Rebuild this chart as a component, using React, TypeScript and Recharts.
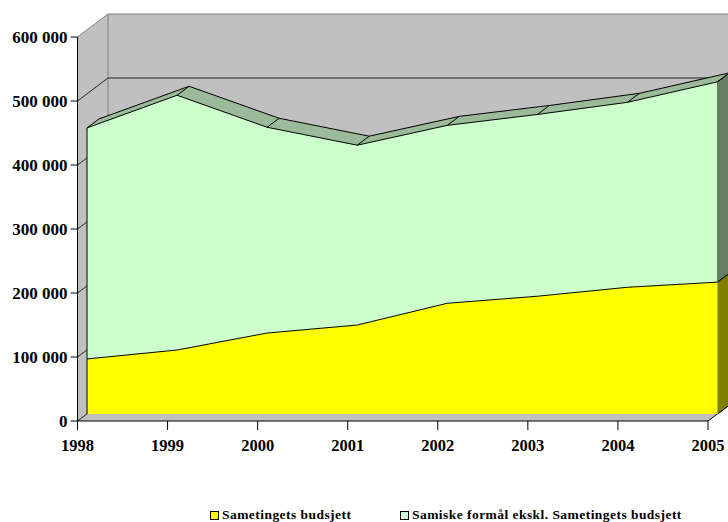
import {
  Area,
  ComposedChart,
  Legend,
  ReferenceArea,
  XAxis,
  YAxis,
} from "recharts";

const years = ["1998", "1999", "2000", "2001", "2002", "2003", "2004", "2005"];
const budget = [86000, 100000, 126500, 139000, 173000, 184000, 198000, 206000];
const other = [361000, 398000, 321500, 281000, 278000, 284000, 289000, 313000];
const yTicks = [0, 100000, 200000, 300000, 400000, 500000, 600000];

const BUDGET_NAME = "Sametingets budsjett";
const OTHER_NAME = "Samiske formål ekskl. Sametingets budsjett";

const data = years.map((year, i) => ({
  year,
  budget: budget[i],
  total: budget[i] + other[i],
}));

const last = data[data.length - 1];
const first = data[0];

const FONT = "'Liberation Serif', serif";
const WALL = "#c0c0c0";
const EDGE = "#808080";
const YELLOW = "#ffff00";
const GREEN = "#ccffcc";
const RIBBON = "#9aba9a";
const GREEN_SIDE = "#668066";
const YELLOW_SIDE = "#808000";

// 3D depth of the whole box, and of one series ribbon
const BOX_DX = 30.5;
const BOX_DY = 23;
const RIB_DX = 12;
const RIB_DY = 9;

const formatTick = (v: number) =>
  v === 0 ? "0" : `${v / 1000} 000`;

// gray box: side wall, back wall and floor, plus the two visible axis lines
function renderBox({ x, y, width, height }: any) {
  const right = x + width;
  const bottom = y + height;
  const outline = [
    [x, y],
    [x + BOX_DX, y - BOX_DY],
    [right + BOX_DX, y - BOX_DY],
    [right + BOX_DX, bottom - BOX_DY],
    [right, bottom],
    [x, bottom],
  ]
    .map((p) => p.join(","))
    .join(" ");
  return (
    <g>
      <polygon points={outline} fill={WALL} stroke="none" />
      <path
        d={`M${x},${y}L${x + BOX_DX},${y - BOX_DY}L${right + BOX_DX},${y - BOX_DY}`}
        fill="none"
        stroke={EDGE}
      />
      <path
        d={`M${x + BOX_DX},${y - BOX_DY}V${bottom - BOX_DY}`}
        fill="none"
        stroke={EDGE}
      />
      <path
        d={`M${right + BOX_DX},${bottom - BOX_DY}L${right},${bottom}H${x}V${y}`}
        fill="none"
        stroke="#000"
      />
    </g>
  );
}

// gridline: runs up the side wall and then along the back wall
function renderGrid({ x, y, width }: any) {
  return (
    <path
      d={`M${x},${y}L${x + BOX_DX},${y - BOX_DY}H${x + width + BOX_DX}`}
      fill="none"
      stroke="#000"
      strokeOpacity={0.8}
    />
  );
}

// right-hand end face of a series
const renderSide = (fill: string) =>
  function Side({ x, y, height }: any) {
    const pts = [
      [x, y],
      [x + RIB_DX, y - RIB_DY],
      [x + RIB_DX, y + height - RIB_DY],
      [x, y + height],
    ]
      .map((p) => p.join(","))
      .join(" ");
    return <polygon points={pts} fill={fill} stroke="#000" />;
  };

// left edge of the front face
function renderFrontEdge({ x, y, height }: any) {
  return <path d={`M${x},${y}v${height}`} fill="none" stroke="#000" />;
}

// the piece of ribbon left of the back edge's first point
function renderRibbonStart({ x, y }: any) {
  return (
    <polygon
      points={`${x},${y} ${x + RIB_DX},${y - RIB_DY} ${x + RIB_DX},${y + 20}`}
      fill={RIBBON}
      stroke="none"
    />
  );
}

// joins each point of the ribbon's back edge to its front edge
function renderRibbonDot({ cx, cy, index }: any) {
  return (
    <path
      key={index}
      d={`M${cx},${cy}L${cx - RIB_DX},${cy + RIB_DY}`}
      fill="none"
      stroke="#000"
    />
  );
}

function renderLegend() {
  const items = [
    { name: BUDGET_NAME, color: YELLOW, width: 190 },
    { name: OTHER_NAME, color: GREEN, width: 290 },
  ];
  return (
    <div style={{ display: "flex", fontFamily: FONT, fontWeight: 700, fontSize: 13.5, letterSpacing: 0.45, color: "#000" }}>
      {items.map((item) => (
        <div key={item.name} style={{ width: item.width, display: "flex", alignItems: "center", lineHeight: "14px" }}>
          <span
            style={{
              width: 7,
              height: 7,
              background: item.color,
              border: "1px solid #000",
              marginRight: 3,
            }}
          />
          {item.name}
        </div>
      ))}
    </div>
  );
}

export default function App() {
  const xTick = { fontFamily: FONT, fontWeight: 700, fontSize: 16.5, fill: "#000" };
  const yTick = { fontFamily: FONT, fontWeight: 700, fontSize: 17, fill: "#000" };
  return (
    <div style={{ position: "absolute", left: 0, top: 0, width: 728, height: 522 }}>
      <ComposedChart
        width={728}
        height={522}
        data={data}
        margin={{ top: 14, right: -11, bottom: 0, left: 0 }}
      >
        {/* front plane: the visible axes */}
        <XAxis
          xAxisId="front"
          dataKey="year"
          scale="point"
          padding={{ left: 0, right: 31 }}
          height={87}
          axisLine={false}
          tickLine={{ stroke: "#000" }}
          tickSize={9}
          tickMargin={9}
          tick={xTick}
          interval={0}
        />
        <YAxis
          yAxisId="front"
          domain={[0, 600000]}
          ticks={yTicks}
          padding={{ top: 23, bottom: 0 }}
          width={77.5}
          axisLine={false}
          tickLine={{ stroke: "#000" }}
          tickSize={7}
          tickMargin={3}
          tick={yTick}
          tickFormatter={formatTick}
          interval={0}
        />
        {/* front face of the series */}
        <XAxis xAxisId="face" dataKey="year" scale="point" hide height={0} padding={{ left: 9.5, right: 21.5 }} />
        <YAxis yAxisId="face" domain={[0, 600000]} hide width={0} padding={{ top: 16, bottom: 7 }} />
        {/* back edge of the series ribbon */}
        <XAxis xAxisId="back" dataKey="year" scale="point" hide height={0} padding={{ left: 21.5, right: 9.5 }} />
        <YAxis yAxisId="back" domain={[0, 600000]} hide width={0} padding={{ top: 7, bottom: 16 }} />

        {/* keeps the front axes bound to the data, draws nothing */}
        <Area
          xAxisId="front"
          yAxisId="front"
          dataKey="total"
          fill="none"
          stroke="none"
          dot={false}
          activeDot={false}
          legendType="none"
          isAnimationActive={false}
        />
        <ReferenceArea
          xAxisId="front"
          yAxisId="front"
          x1={first.year}
          x2={last.year}
          y1={0}
          y2={600000}
          ifOverflow="visible"
          shape={renderBox}
        />
        {yTicks.slice(0, -1).map((v) => (
          <ReferenceArea
            key={v}
            xAxisId="front"
            yAxisId="front"
            x1={first.year}
            x2={last.year}
            y1={v}
            y2={v}
            ifOverflow="visible"
            shape={renderGrid}
          />
        ))}

        <ReferenceArea
          xAxisId="face"
          yAxisId="face"
          x1={first.year}
          x2={first.year}
          y1={0}
          y2={first.total}
          ifOverflow="visible"
          shape={renderRibbonStart}
        />
        <Area
          xAxisId="back"
          yAxisId="back"
          dataKey="total"
          type="linear"
          fill={RIBBON}
          fillOpacity={1}
          stroke="#000"
          dot={renderRibbonDot}
          activeDot={false}
          legendType="none"
          isAnimationActive={false}
        />
        <ReferenceArea
          xAxisId="face"
          yAxisId="face"
          x1={last.year}
          x2={last.year}
          y1={last.budget}
          y2={last.total}
          ifOverflow="visible"
          shape={renderSide(GREEN_SIDE)}
        />
        <ReferenceArea
          xAxisId="face"
          yAxisId="face"
          x1={last.year}
          x2={last.year}
          y1={0}
          y2={last.budget}
          ifOverflow="visible"
          shape={renderSide(YELLOW_SIDE)}
        />
        <Area
          xAxisId="face"
          yAxisId="face"
          dataKey="total"
          name={OTHER_NAME}
          type="linear"
          fill={GREEN}
          fillOpacity={1}
          stroke="#000"
          dot={false}
          activeDot={false}
          isAnimationActive={false}
        />
        <Area
          xAxisId="face"
          yAxisId="face"
          dataKey="budget"
          name={BUDGET_NAME}
          type="linear"
          fill={YELLOW}
          fillOpacity={1}
          stroke="#000"
          dot={false}
          activeDot={false}
          isAnimationActive={false}
        />
        <ReferenceArea
          xAxisId="face"
          yAxisId="face"
          x1={first.year}
          x2={first.year}
          y1={0}
          y2={first.total}
          ifOverflow="visible"
          shape={renderFrontEdge}
        />
        <Legend
          content={renderLegend}
          wrapperStyle={{ position: "absolute", left: 210, top: 508, width: 500, height: 14 }}
        />
      </ComposedChart>
    </div>
  );
}
